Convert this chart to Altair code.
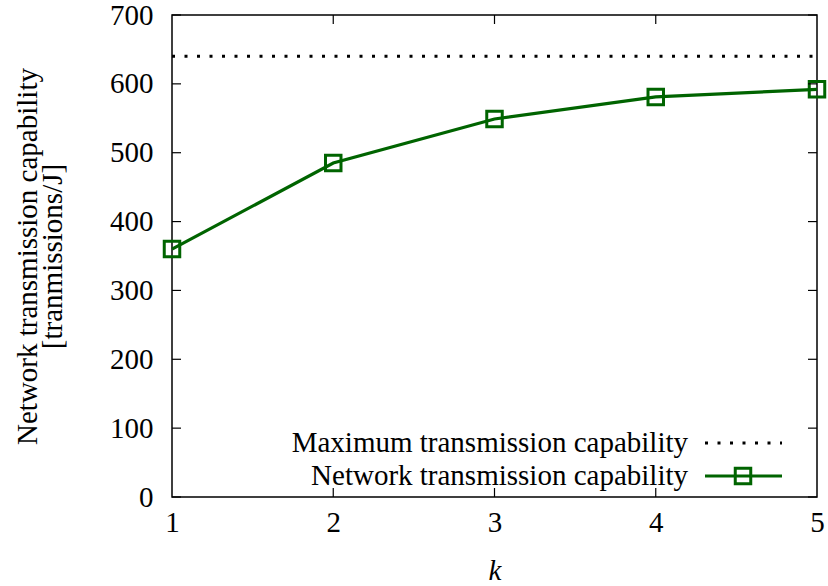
import altair as alt
import pandas as pd

k_values = [1, 2, 3, 4, 5]
network_capability = [360, 485, 549, 581, 592]
max_capability = 640
y_ticks = [0, 100, 200, 300, 400, 500, 600, 700]
x_ticks = [1, 2, 3, 4, 5]
legend_labels = ["Maximum transmission capability", "Network transmission capability"]

GREEN = "#006400"
FONT = "Liberation Serif"
FS = 29
W, H = 645, 482

df = pd.DataFrame({"k": k_values, "cap": network_capability})
df_max = pd.DataFrame({"k": [1, 5], "cap": [max_capability, max_capability]})
df_yt = pd.DataFrame({"cap": y_ticks})
df_xt = pd.DataFrame({"k": x_ticks[1:-1]})

xs = alt.Scale(domain=[1, 5], nice=False)
ys = alt.Scale(domain=[0, 700], nice=False)

xaxis = alt.Axis(values=x_ticks, format="d", labelFont=FONT, labelFontSize=FS,
                 labelColor="black", labelPadding=11, labelFlush=False,
                 domain=False, ticks=False, grid=False,
                 title="k", titleFont=FONT, titleFontSize=FS, titleFontStyle="italic",
                 titleFontWeight="normal", titleColor="black", titlePadding=19)
yaxis = alt.Axis(values=y_ticks, labelFont=FONT, labelFontSize=FS, labelColor="black",
                 labelPadding=19, labelFlush=False, domain=False, ticks=False, grid=False,
                 title=["Network transmission capability", "[tranmissions/J]"],
                 titleFont=FONT, titleFontSize=FS, titleFontWeight="normal",
                 titleColor="black", titlePadding=42, titleLineHeight=25)

X = alt.X("k:Q", scale=xs, axis=xaxis)
Y = alt.Y("cap:Q", scale=ys, axis=yaxis)

line = alt.Chart(df).mark_line(color=GREEN, strokeWidth=3.2).encode(x=X, y=Y)
pts = alt.Chart(df).mark_point(shape="square", filled=False, color=GREEN, size=240,
                               strokeWidth=3, opacity=1).encode(x=X, y=Y)
maxline = alt.Chart(df_max).mark_line(color="black", strokeWidth=3, strokeDash=[3, 9.5]).encode(x=X, y=Y)

TL = 9
yt_left = alt.Chart(df_yt).mark_rule(color="black", strokeWidth=1.2).encode(
    x=alt.value(0), x2=alt.value(TL), y=Y)
yt_right = alt.Chart(df_yt).mark_rule(color="black", strokeWidth=1.2).encode(
    x=alt.value(W - TL), x2=alt.value(W), y=Y)
xt_bot = alt.Chart(df_xt).mark_rule(color="black", strokeWidth=1.2).encode(
    y=alt.value(H), y2=alt.value(H - TL), x=X)
xt_top = alt.Chart(df_xt).mark_rule(color="black", strokeWidth=1.2).encode(
    y=alt.value(0), y2=alt.value(TL), x=X)

one = pd.DataFrame({"a": [0]})
leg_t1 = alt.Chart(one).mark_text(font=FONT, fontSize=FS, align="right",
                                  baseline="middle", color="black",
                                  text=legend_labels[0]).encode(
    x=alt.value(516), y=alt.value(428))
leg_t2 = alt.Chart(one).mark_text(font=FONT, fontSize=FS, align="right",
                                  baseline="middle", color="black",
                                  text=legend_labels[1]).encode(
    x=alt.value(516), y=alt.value(461))
leg_max = alt.Chart(one).mark_rule(
    color="black", strokeWidth=3, strokeDash=[3, 9.5]).encode(
    x=alt.value(533), x2=alt.value(610), y=alt.value(428))
leg_net = alt.Chart(one).mark_rule(
    color=GREEN, strokeWidth=3.2).encode(
    x=alt.value(533), x2=alt.value(610), y=alt.value(461))
leg_pt = alt.Chart(one).mark_point(
    shape="square", filled=False, color=GREEN, size=240, strokeWidth=3, opacity=1).encode(
    x=alt.value(571), y=alt.value(461))

chart = alt.layer(maxline, line, pts, yt_left, yt_right, xt_bot, xt_top,
                  leg_max, leg_net, leg_pt, leg_t1, leg_t2).properties(
    width=W, height=H,
    autosize=alt.AutoSizeParams(type="none"),
    padding={"left": 172, "top": 15, "right": 11, "bottom": 89},
    background="white",
).configure_view(stroke="black", strokeWidth=1.5)

chart.save("out.html", embed_options={"renderer": "svg", "actions": False})
